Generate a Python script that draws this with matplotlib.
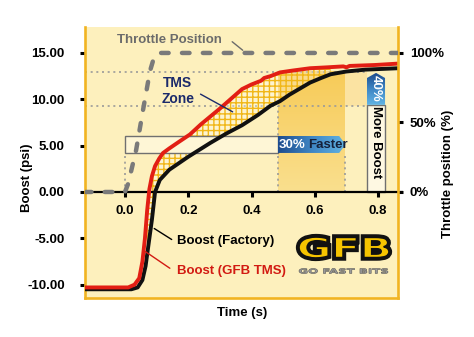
import numpy as np
import matplotlib
matplotlib.use('Agg')
import matplotlib.pyplot as plt
from matplotlib.patches import Polygon, Rectangle, PathPatch
from matplotlib.textpath import TextPath
from matplotlib.font_manager import FontProperties
from matplotlib.transforms import Affine2D
from matplotlib.colors import LinearSegmentedColormap
import matplotlib.patheffects as pe

plt.rcParams['font.family'] = ['Liberation Sans', 'DejaVu Sans']
plt.rcParams['font.weight'] = 'bold'
plt.rcParams['hatch.linewidth'] = 1.0

# ---------------- data ----------------
time_gfb = [-0.13, 0.01, 0.03, 0.045, 0.055, 0.063, 0.07, 0.077, 0.085, 0.095, 0.108, 0.12,
            0.14, 0.17, 0.205, 0.24, 0.30, 0.37, 0.40, 0.43, 0.44, 0.46, 0.49, 0.53, 0.585,
            0.64, 0.69, 0.70, 0.71, 0.79, 0.863]
boost_gfb = [-10.3, -10.3, -10.0, -9.3, -7.5, -5.0, -2.0, 0.3, 1.7, 2.8, 3.6, 4.2,
             4.7, 5.4, 6.2, 7.3, 9.0, 11.1, 11.6, 12.0, 12.3, 12.5, 12.9, 13.1, 13.35,
             13.45, 13.55, 13.45, 13.6, 13.7, 13.85]

time_factory = [-0.13, 0.02, 0.04, 0.055, 0.065, 0.075, 0.085, 0.095, 0.11, 0.14, 0.20,
                0.27, 0.32, 0.37, 0.42, 0.46, 0.49, 0.52, 0.55, 0.585, 0.62, 0.65, 0.70,
                0.76, 0.863]
boost_factory = [-10.5, -10.5, -10.3, -9.5, -8.0, -5.5, -3.0, 0.0, 1.3, 2.4, 3.8,
                 5.3, 6.3, 7.2, 8.3, 9.3, 9.8, 10.5, 11.1, 11.8, 12.3, 12.7, 13.0,
                 13.2, 13.35]

time_throttle = [-0.13, 0.0, 0.01, 0.035, 0.057, 0.079, 0.092, 0.105, 0.863]
throttle_pct = [0, 0, 6, 30, 59, 87, 97, 100, 100]

x_ticks = [0.0, 0.2, 0.4, 0.6, 0.8]
x_tick_labels = ['0.0', '0.2', '0.4', '0.6', '0.8']
y_ticks = [-10, -5, 0, 5, 10, 15]
y_tick_labels = ['-10.00', '-5.00', '0.00', '5.00', '10.00', '15.00']
y2_ticks = [0, 50, 100]
y2_tick_labels = ['0%', '50%', '100%']

# ---------------- layout ----------------
W, H = 474, 337
fig = plt.figure(figsize=(W / 100, H / 100), dpi=100)
fig.patch.set_facecolor('white')
L, R, T, B = 85, 398, 27, 298
ax = fig.add_axes([L / W, 1 - B / H, (R - L) / W, (B - T) / H])
XLIM = (-0.1265, 0.863)
YLIM = (-11.44, 17.8)
BG = '#FDF0BD'
ORANGE = '#F1B422'
ax.set_facecolor(BG)

# shaded band with vertical gradient
band_cmap = LinearSegmentedColormap.from_list('band', ['#FADF8E', '#F7CB58'])
grad = np.linspace(0, 1, 100).reshape(-1, 1)
ax.imshow(grad, extent=[0.483, 0.694, 0, 12.95], origin='lower', cmap=band_cmap,
          aspect='auto', zorder=0.5)
ax.add_patch(Rectangle((0.694, 9.25), 0.071, 3.7, facecolor='#FBE3A2', edgecolor='none', zorder=0.5))

# dotted reference lines
dot = dict(color='#9A9A9A', lw=1.2, linestyle=(0, (1.2, 2.2)), zorder=0.8)
ax.plot([XLIM[0], 0.765], [12.95, 12.95], **dot)
ax.plot([XLIM[0], 0.765], [9.25, 9.25], **dot)
ax.plot([0.0, 0.0], [0, 4.21], **dot)
ax.plot([0.483, 0.483], [0, 9.25], **dot)
ax.plot([0.694, 0.694], [0, 4.21], **dot)

# hatched TMS zone between the curves
tc = np.union1d(time_gfb, time_factory)
rc = np.interp(tc, time_gfb, boost_gfb)
bc = np.interp(tc, time_factory, boost_factory)
mask = (tc >= 0.07) & (tc <= 0.66)
ax.fill_between(tc, rc, bc, where=mask, facecolor='white', alpha=0.3, linewidth=0, zorder=1.2)
ax.fill_between(tc, rc, bc, where=mask, facecolor='none', edgecolor='#F1B718',
                hatch='+++', linewidth=0, zorder=1.3)

# 30% faster box and tag
ax.add_patch(Rectangle((0.0, 4.21), 0.483, 1.83, facecolor='#FEF6D6', edgecolor='#707070',
                       lw=1.0, zorder=2.5))
tag_cmap = LinearSegmentedColormap.from_list('tag', ['#1D4C8E', '#3F86C4', '#62B4E4'])
faster_poly = Polygon([(0.483, 4.21), (0.677, 4.21), (0.697, 5.125), (0.677, 6.04), (0.483, 6.04)],
                      closed=True, facecolor='none', edgecolor='none', zorder=3)
ax.add_patch(faster_poly)
im1 = ax.imshow(np.linspace(0, 1, 100).reshape(1, -1), extent=[0.483, 0.697, 4.21, 6.04],
                cmap=tag_cmap, aspect='auto', zorder=3)
im1.set_clip_path(faster_poly)
ax.text(0.487, 5.12, '30%', color='white', fontsize=9.5, ha='left', va='center', zorder=6)
ax.text(0.578, 5.12, 'Faster', color='#15203A', fontsize=9.5, ha='left', va='center', zorder=6)

# more boost box and tag
ax.add_patch(Rectangle((0.765, 0.0), 0.057, 9.4, facecolor='#FEF8E2', edgecolor='#707070',
                       lw=1.0, zorder=2.5))
boost_poly = Polygon([(0.765, 9.4), (0.822, 9.4), (0.822, 12.3), (0.7935, 12.85), (0.765, 12.3)],
                     closed=True, facecolor='none', edgecolor='none', zorder=3)
ax.add_patch(boost_poly)
im2 = ax.imshow(np.linspace(0, 1, 100).reshape(-1, 1), extent=[0.765, 0.822, 9.4, 12.85],
                origin='upper', cmap=tag_cmap, aspect='auto', zorder=3)
im2.set_clip_path(boost_poly)
ax.text(0.7935, 11.15, '40%', color='white', fontsize=9.5, rotation=-90, ha='center',
        va='center', zorder=6)
ax.text(0.7935, 5.4, 'More Boost', color='black', fontsize=9.5, rotation=-90, ha='center',
        va='center', zorder=6)

# zero axis line
ax.plot([XLIM[0], XLIM[1] + 0.016], [0, 0], color='black', lw=1.6, clip_on=False, zorder=4,
        solid_capstyle='butt')

# boost curves
ax.plot(time_factory, boost_factory, color='#111111', lw=2.8, zorder=5, solid_capstyle='round')
ax.plot(time_gfb, boost_gfb, color='#E21E14', lw=2.8, zorder=5.5, solid_capstyle='round')

# annotations
ax.text(0.167, 10.9, 'TMS\nZone', color='#1B2A6B', fontsize=10, ha='center', va='center',
        linespacing=1.1, zorder=6)
ax.annotate('', xy=(0.348, 8.5), xytext=(0.231, 10.7),
            arrowprops=dict(arrowstyle='-', color='#1B2A6B', lw=1.0), zorder=6)
ax.text(0.142, 16.4, 'Throttle Position', color='#6B6B6B', fontsize=9.5, ha='center',
        va='center', zorder=6)
ax.annotate('', xy=(0.379, 15.1), xytext=(0.332, 16.4),
            arrowprops=dict(arrowstyle='-', color='#6B6B6B', lw=1.0), zorder=6)
ax.text(0.164, -5.3, 'Boost (Factory)', color='black', fontsize=9.5, ha='left', va='center', zorder=6)
ax.annotate('', xy=(0.085, -3.78), xytext=(0.155, -5.29),
            arrowprops=dict(arrowstyle='-', color='black', lw=1.0), zorder=6)
ax.text(0.164, -8.5, 'Boost (GFB TMS)', color='#D21A12', fontsize=9.5, ha='left', va='center', zorder=6)
ax.annotate('', xy=(0.057, -6.26), xytext=(0.149, -8.4),
            arrowprops=dict(arrowstyle='-', color='#D21A12', lw=1.0), zorder=6)

ax.set_xlim(*XLIM)
ax.set_ylim(*YLIM)

# axes styling
for s in ['top', 'right']:
    ax.spines[s].set_visible(False)
for s in ['left', 'bottom']:
    ax.spines[s].set_color(ORANGE)
    ax.spines[s].set_linewidth(1.9)
ax.tick_params(axis='x', bottom=False, labelbottom=False)
ax.set_yticks(y_ticks, labels=y_tick_labels)
ax.tick_params(axis='y', direction='out', length=3.5, width=2.2, color='black', pad=11,
               labelsize=9.5)

frac0 = (0 - YLIM[0]) / (YLIM[1] - YLIM[0])
sec = ax.secondary_xaxis(frac0)
sec.set_xticks(x_ticks, labels=x_tick_labels)
sec.tick_params(direction='out', length=3.5, width=2.2, color='black', pad=6, labelsize=9.5)
sec.spines['bottom'].set_visible(False)
sec.set_zorder(6)

# throttle axis
ax2 = ax.twinx()
ax2.set_ylim(YLIM[0] / 15 * 100, YLIM[1] / 15 * 100)
ax2.plot(time_throttle, throttle_pct, color='#7A7A7A', lw=3.2, linestyle=(0, (1.7, 3.0)),
         dash_capstyle='round', zorder=3)
ax2.set_xlim(*XLIM)
for s in ['top', 'left', 'bottom']:
    ax2.spines[s].set_visible(False)
ax2.spines['right'].set_color(ORANGE)
ax2.spines['right'].set_linewidth(1.9)
ax2.set_yticks(y2_ticks, labels=y2_tick_labels)
ax2.tick_params(axis='y', direction='out', length=3.5, width=2.2, color='black', pad=5,
                labelsize=9.5)

# axis labels
fig.text(27 / W, 1 - 178 / H, 'Boost (psi)', rotation=90, ha='center', va='center', fontsize=9.5)
fig.text(448 / W, 1 - 174 / H, 'Throttle position (%)', rotation=90, ha='center', va='center',
         fontsize=9.5)
fig.text(242 / W, 1 - 313 / H, 'Time (s)', ha='center', va='center', fontsize=9.5)


# GFB logo
def stretched_text(s, box, fc, ec, lw, effects=None):
    fp = FontProperties(family='DejaVu Sans', weight='bold')
    tp = TextPath((0, 0), s, size=10, prop=fp)
    ext = tp.get_extents()
    x0, x1, y0, y1 = box
    fx0, fx1 = x0 / W, x1 / W
    fy0, fy1 = 1 - y1 / H, 1 - y0 / H
    tr = (Affine2D().translate(-ext.x0, -ext.y0)
          .scale((fx1 - fx0) / ext.width, (fy1 - fy0) / ext.height)
          .translate(fx0, fy0) + fig.transFigure)
    p = PathPatch(tp, transform=tr, facecolor=fc, edgecolor=ec, lw=lw)
    if effects:
        p.set_path_effects(effects)
    fig.add_artist(p)


stretched_text('GFB', (299, 389, 237, 258), '#F6C400', '#111111', 1.2,
               [pe.Stroke(linewidth=4.5, foreground='#111111'), pe.Normal()])
stretched_text('GO FAST BITS', (299, 388, 268.5, 273.5), '#9A9A9A', '#555555', 0.4)

fig.savefig('out.png', dpi=100, facecolor='white')
